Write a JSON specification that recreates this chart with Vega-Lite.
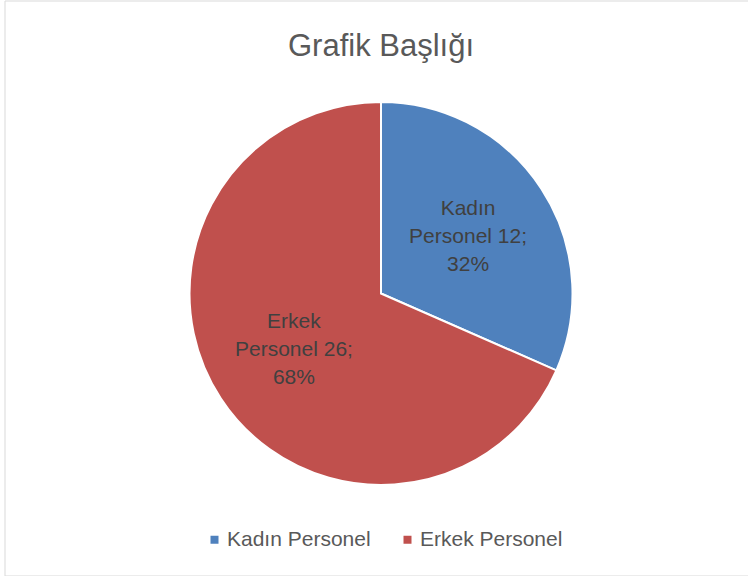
{
  "$schema": "https://vega.github.io/schema/vega-lite/v6.json",
  "autosize": {"type": "none"},
  "padding": {"left": 5, "top": 1, "right": 0, "bottom": 0},
  "width": 752,
  "height": 575,
  "background": "white",
  "config": {
    "view": {"stroke": "#d9d9d9", "strokeWidth": 1},
    "font": "Liberation Sans"
  },
  "title": {
    "text": "Grafik Başlığı",
    "orient": "top",
    "anchor": "middle",
    "offset": -86,
    "baseline": "alphabetic",
    "font": "Liberation Sans",
    "fontSize": 31,
    "fontWeight": "normal",
    "color": "#595959"
  },
  "data": {
    "values": [
      {"idx": 1, "category": "Kadın Personel", "value": 12, "label": "Kadın\nPersonel 12;\n32%"},
      {"idx": 2, "category": "Erkek Personel", "value": 26, "label": "Erkek\nPersonel 26;\n68%"}
    ]
  },
  "layer": [
    {
      "data": {"values": [{"frame": 1}]},
      "mark": {"type": "rect", "fillOpacity": 0, "stroke": "#d9d9d9", "strokeWidth": 1},
      "encoding": {}
    },
    {
      "mark": {"type": "arc", "outerRadius": 191.5, "stroke": "white", "strokeWidth": 2, "yOffset": 5},
      "encoding": {
        "theta": {"field": "value", "type": "quantitative", "stack": true},
        "order": {"field": "idx", "type": "quantitative"},
        "color": {
          "field": "category",
          "type": "nominal",
          "scale": {"domain": ["Kadın Personel", "Erkek Personel"], "range": ["#4f81bd", "#c0504d"]},
          "legend": {
            "title": null,
            "orient": "none",
            "direction": "horizontal",
            "legendX": 199,
            "legendY": 528,
            "padding": 0,
            "symbolType": "square",
            "symbolSize": 64,
            "symbolStrokeWidth": 0,
            "labelFont": "Liberation Sans",
            "labelFontSize": 21,
            "labelColor": "#595959",
            "labelOffset": 2,
            "columnPadding": 26
          }
        }
      }
    },
    {
      "mark": {"type": "text", "radius": 104, "yOffset": 5, "dy": -28, "lineBreak": "\n", "lineHeight": 28, "fontSize": 21, "font": "Liberation Sans", "color": "#404040", "baseline": "middle", "align": "center"},
      "encoding": {
        "theta": {"field": "value", "type": "quantitative", "stack": true},
        "order": {"field": "idx", "type": "quantitative"},
        "text": {"field": "label", "type": "nominal"}
      }
    }
  ]
}
